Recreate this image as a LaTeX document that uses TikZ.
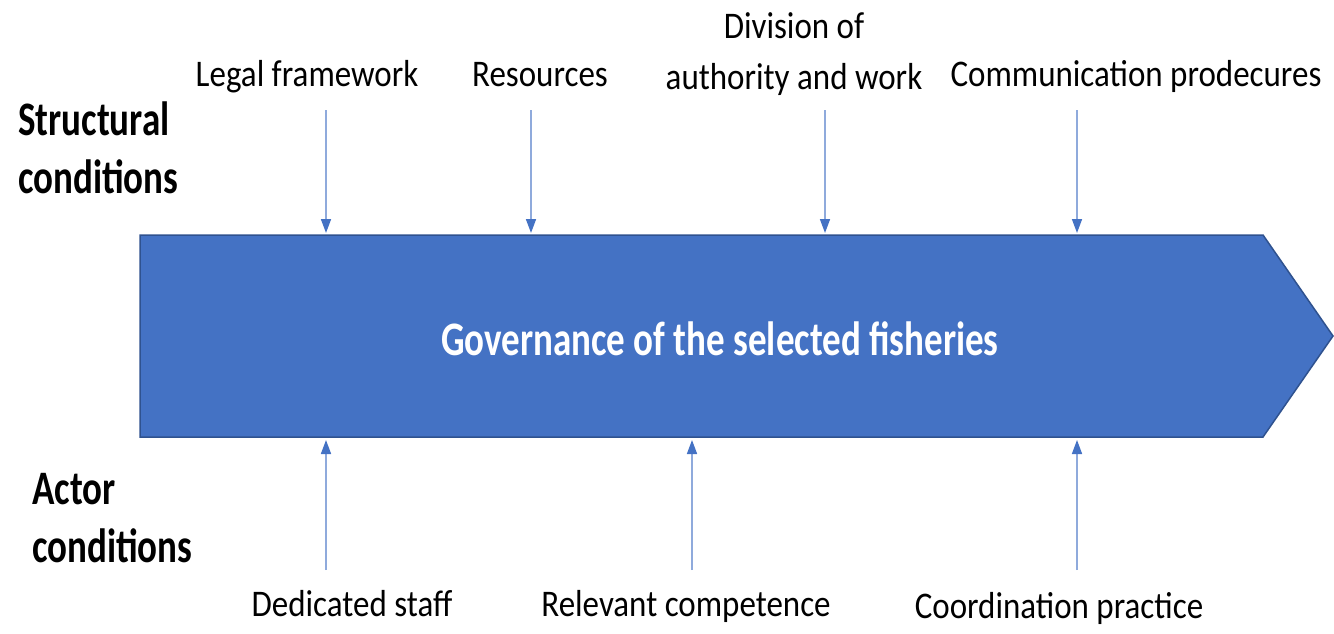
\documentclass[tikz,border=0pt]{standalone}
\usepackage{fontspec}
\setmainfont{Carlito}
\usetikzlibrary{arrows.meta}
\definecolor{mainblue}{HTML}{4472C4}
\definecolor{edgeblue}{HTML}{2F528F}
\definecolor{lineblue}{HTML}{8FAADC}
\newcommand{\lbl}[1]{\scalebox{1}[1.14]{\fontsize{33}{44}\selectfont #1}}
\newcommand{\blbl}[1]{\scalebox{1}[1.3]{\fontsize{37}{44.6}\selectfont\bfseries #1}}
\newcommand{\glbl}[1]{\scalebox{1}[1.3]{\fontsize{37}{44.6}\selectfont\bfseries #1}}
\begin{document}
\begin{tikzpicture}[x=1pt,y=-1pt,
  lab/.style={inner sep=0pt,anchor=base},
  side/.style={inner sep=0pt,anchor=base west},
  conn/.style={draw=lineblue,line width=1.6pt,-{Triangle[length=14pt,width=10pt,color=mainblue]}}]
\useasboundingbox (0,0) rectangle (1334,634);
\path[fill=mainblue,draw=edgeblue,line width=1.5pt]
  (140,235) -- (1263,235) -- (1333,336) -- (1263,437) -- (140,437) -- cycle;
\node[lab,text=white] (gov) at (720,355) {\glbl{Governance of the selected fisheries}};

\node[side] (struct) at (18,193) {\blbl{\begin{tabular}[b]{@{}l@{}}Structural\\conditions\end{tabular}}};
\node[side] (actor) at (32,562) {\blbl{\begin{tabular}[b]{@{}l@{}}Actor\\conditions\end{tabular}}};

\node[lab] (legal) at (307,87) {\lbl{Legal framework}};
\node[lab] (res) at (540,87) {\lbl{Resources}};
\node[lab] (div) at (794,89) {\lbl{\begin{tabular}[b]{@{}c@{}}Division of\\authority and work\end{tabular}}};
\node[lab] (comm) at (1136,87) {\lbl{Communication prodecures}};

\node[lab] (staff) at (352,616) {\lbl{Dedicated staff}};
\node[lab] (comp) at (686,616) {\lbl{Relevant competence}};
\node[lab] (coord) at (1059,618) {\lbl{Coordination practice}};

\coordinate (t1s) at (326,110); \coordinate (t1e) at (326,233);
\coordinate (t2s) at (531,110); \coordinate (t2e) at (531,233);
\coordinate (t3s) at (825,110); \coordinate (t3e) at (825,233);
\coordinate (t4s) at (1077,110); \coordinate (t4e) at (1077,233);
\coordinate (b1s) at (326,570); \coordinate (b1e) at (326,440);
\coordinate (b2s) at (692,570); \coordinate (b2e) at (692,440);
\coordinate (b3s) at (1077,570); \coordinate (b3e) at (1077,440);
\foreach \a in {t1,t2,t3,t4,b1,b2,b3} \draw[conn] (\a s) -- (\a e);
\end{tikzpicture}
\end{document}
